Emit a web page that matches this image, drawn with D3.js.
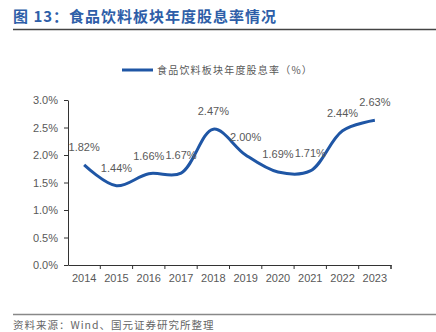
<!DOCTYPE html>
<html><head><meta charset="utf-8">
<script src="https://cdn.jsdelivr.net/npm/d3@7"></script>
<style>body{margin:0;background:#fff}svg{display:block}</style>
</head><body>
<script>
const years = ["2014","2015","2016","2017","2018","2019","2020","2021","2022","2023"];
const dividendYield = [1.82,1.44,1.66,1.67,2.47,2.00,1.69,1.71,2.44,2.63];
const yTicks = [0,0.5,1.0,1.5,2.0,2.5,3.0];
const titleText = "图 13：食品饮料板块年度股息率情况";
const legendText = "食品饮料板块年度股息率（%）";
const sourceText = "资料来源：Wind、国元证券研究所整理";

const W=436,H=332;
const svg=d3.select("body").append("svg").attr("width",W).attr("height",H);
const font="Liberation Sans, Arial, 'Noto Sans CJK SC', sans-serif";
const cjk="'Noto Sans CJK SC', sans-serif";

svg.append("text").attr("x",13).attr("y",22).attr("fill","#2e5ea8")
  .attr("font-family",cjk).attr("font-weight","bold").attr("font-size",15)
  .attr("letter-spacing",1).text(titleText);
svg.append("line").attr("x1",13).attr("x2",W).attr("y1",29.5).attr("y2",29.5)
  .attr("stroke","#444").attr("stroke-width",1.5);
svg.append("line").attr("x1",13).attr("x2",W).attr("y1",314.5).attr("y2",314.5)
  .attr("stroke","#888").attr("stroke-width",1.5);
svg.append("text").attr("x",13).attr("y",329).attr("fill","#666")
  .attr("font-family",cjk).attr("font-size",10.5).attr("letter-spacing",1).text(sourceText);

// legend
svg.append("line").attr("x1",122).attr("x2",153).attr("y1",70).attr("y2",70)
  .attr("stroke","#1f56a5").attr("stroke-width",3);
svg.append("text").attr("x",157).attr("y",74).attr("fill","#595959")
  .attr("font-family",cjk).attr("font-size",10).attr("letter-spacing",1.2).text(legendText);

const x=d3.scaleBand().domain(years).range([68,391]);
const y=d3.scaleLinear().domain([0,3]).range([265,100]);

const gx=svg.append("g").attr("transform","translate(0,265)")
  .call(d3.axisBottom(x).tickSizeOuter(0).tickSizeInner(4).tickFormat(d=>d));
gx.selectAll(".tick line").attr("transform",`translate(${x.bandwidth()/2},0)`);
svg.append("line").attr("x1",391).attr("x2",391).attr("y1",265).attr("y2",269).attr("stroke","#333");
gx.select(".domain").attr("stroke","#333");
gx.selectAll(".tick line").attr("stroke","#333");
gx.selectAll("text").attr("font-family",font).attr("font-size",11).attr("fill","#595959").attr("dy","0.95em");

const gy=svg.append("g").attr("transform","translate(68,0)")
  .call(d3.axisLeft(y).tickValues(yTicks).tickSizeOuter(0).tickSizeInner(4).tickFormat(d=>d.toFixed(1)+"%"));
gy.select(".domain").attr("stroke","#333");
gy.selectAll(".tick line").attr("stroke","#333");
gy.selectAll("text").attr("font-family",font).attr("font-size",11).attr("fill","#595959").attr("x",-10);

const cx=d=>x(d)+x.bandwidth()/2;
const line=d3.line().x((d,i)=>cx(years[i])).y(d=>y(d)).curve(d3.curveCatmullRom.alpha(0.5));
svg.append("path").datum(dividendYield).attr("d",line).attr("fill","none")
  .attr("stroke","#1f56a5").attr("stroke-width",3);

svg.selectAll(".lbl").data(dividendYield).enter().append("text")
  .attr("x",(d,i)=>cx(years[i])).attr("y",d=>y(d)-14)
  .attr("text-anchor","middle").attr("font-family",font).attr("font-size",11)
  .attr("fill","#595959").text(d=>d.toFixed(2)+"%");
</script>
</body></html>
